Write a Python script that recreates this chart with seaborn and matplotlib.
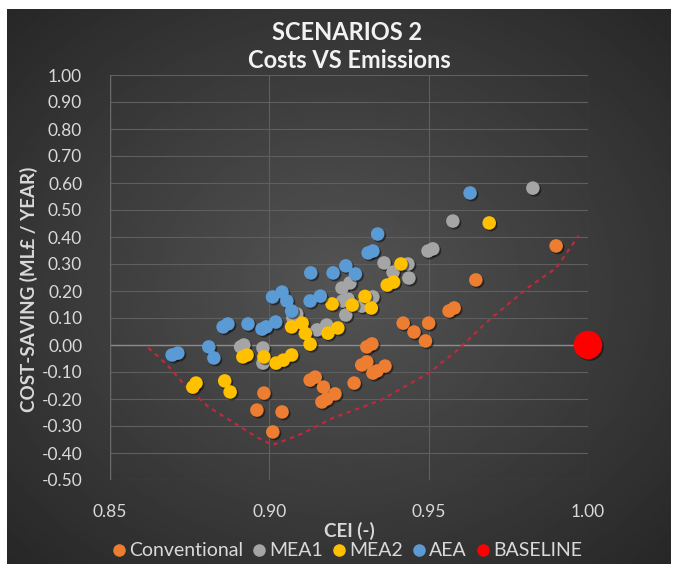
import numpy as np
import pandas as pd
import matplotlib
matplotlib.use("Agg")
import matplotlib.pyplot as plt
import matplotlib.patheffects as pe
from matplotlib.lines import Line2D
import seaborn as sns

# ---- data ----
conv_x = [0.990, 0.9648, 0.9564, 0.958, 0.942, 0.950, 0.9454, 0.949, 0.9306, 0.9322,
          0.929, 0.9306, 0.9325, 0.9338, 0.9363, 0.9266, 0.9206, 0.9128, 0.9144, 0.917,
          0.9165, 0.918, 0.904, 0.8983, 0.8961, 0.9011]
conv_y = [0.367, 0.241, 0.126, 0.137, 0.081, 0.081, 0.048, 0.015, -0.007, 0.004,
          -0.074, -0.063, -0.104, -0.096, -0.078, -0.141, -0.181, -0.130, -0.119, -0.156,
          -0.211, -0.200, -0.248, -0.178, -0.241, -0.322]

mea1_x = [0.9827, 0.9576, 0.9498, 0.9513, 0.936, 0.9435, 0.9388, 0.9438, 0.9228, 0.9253,
          0.9325, 0.929, 0.924, 0.923, 0.9247, 0.915, 0.918, 0.891, 0.892, 0.898,
          0.898, 0.9074, 0.9086]
mea1_y = [0.581, 0.459, 0.348, 0.356, 0.304, 0.300, 0.270, 0.248, 0.211, 0.230,
          0.178, 0.144, 0.111, 0.163, 0.170, 0.056, 0.074, -0.007, 0.000, -0.011,
          -0.067, 0.100, 0.115]

mea2_x = [0.969, 0.9413, 0.937, 0.939, 0.930, 0.926, 0.932, 0.9197, 0.907, 0.9103,
          0.9113, 0.9128, 0.9184, 0.9215, 0.8917, 0.893, 0.8983, 0.9021, 0.9044, 0.907,
          0.876, 0.877, 0.886, 0.8877]
mea2_y = [0.452, 0.300, 0.222, 0.233, 0.180, 0.148, 0.137, 0.152, 0.067, 0.081,
          0.043, 0.003, 0.044, 0.063, -0.044, -0.037, -0.044, -0.067, -0.056, -0.037,
          -0.156, -0.141, -0.133, -0.174]

aea_x = [0.963, 0.934, 0.931, 0.9325, 0.924, 0.913, 0.920, 0.927, 0.9128, 0.916,
         0.901, 0.904, 0.9055, 0.907, 0.902, 0.8977, 0.899, 0.8933, 0.8855, 0.887,
         0.881, 0.8826, 0.8695, 0.8713]
aea_y = [0.563, 0.411, 0.341, 0.348, 0.293, 0.267, 0.267, 0.263, 0.163, 0.181,
         0.178, 0.196, 0.163, 0.126, 0.085, 0.059, 0.067, 0.078, 0.067, 0.078,
         -0.007, -0.048, -0.037, -0.030]

base_x = [1.00]
base_y = [0.00]

front_x = [0.862, 0.868, 0.874, 0.881, 0.889, 0.896, 0.901, 0.910, 0.920, 0.935,
           0.950, 0.959, 0.965, 0.969, 0.981, 0.990, 0.997]
front_y = [-0.01, -0.074, -0.156, -0.23, -0.289, -0.341, -0.37, -0.33, -0.27, -0.204,
           -0.104, -0.019, 0.048, 0.093, 0.211, 0.285, 0.404]

x_ticks = [0.85, 0.90, 0.95, 1.00]
y_ticks = [-0.5, -0.4, -0.3, -0.2, -0.1, 0.0, 0.1, 0.2, 0.3, 0.4, 0.5, 0.6, 0.7, 0.8, 0.9, 1.0]

names = ["Conventional", "MEA1", "MEA2", "AEA"]
colors = {"Conventional": "#ED7D31", "MEA1": "#A5A5A5", "MEA2": "#FFC000",
          "AEA": "#5B9BD5", "BASELINE": "#FF0000"}

frames = []
for name, xs, ys in [("Conventional", conv_x, conv_y), ("MEA1", mea1_x, mea1_y),
                     ("MEA2", mea2_x, mea2_y), ("AEA", aea_x, aea_y)]:
    frames.append(pd.DataFrame({"CEI": xs, "saving": ys, "scenario": name}))
df = pd.concat(frames, ignore_index=True)
front = pd.DataFrame({"CEI": front_x, "saving": front_y})
base = pd.DataFrame({"CEI": base_x, "saving": base_y})

sns.set_style("dark")
plt.rcParams["font.family"] = ["Lato", "DejaVu Sans"]

fig = plt.figure(figsize=(6.78, 5.72), dpi=100)
fig.patch.set_facecolor("white")

# dark gradient card behind the chart
bg = fig.add_axes([7 / 678, 1 - 564 / 572, 664 / 678, 555 / 572], zorder=0)
yy, xx = np.mgrid[0:1:300j, 0:1:300j]
r = np.sqrt(((xx - 0.5) / 0.8) ** 2 + ((yy - 0.5) / 0.8) ** 2)
bg.imshow(0.33 - 0.2 * r, cmap="gray", vmin=0, vmax=1, aspect="auto",
          extent=[0, 1, 0, 1], interpolation="bilinear")
bg.axis("off")

ax = fig.add_axes([110 / 678, 1 - 480 / 572, 478 / 678, 405 / 572], zorder=1)
ax.patch.set_alpha(0)

sns.lineplot(data=front, x="CEI", y="saving", sort=False, estimator=None, ax=ax,
             color="#C0283C", lw=1.6, linestyle=(0, (2, 2)), zorder=2)

shadow = [pe.SimplePatchShadow(offset=(1.2, -1.2), shadow_rgbFace="black", alpha=0.45), pe.Normal()]
for name in names:
    sns.scatterplot(data=df[df.scenario == name], x="CEI", y="saving", ax=ax,
                    color=colors[name], s=95, edgecolor="none", legend=False, zorder=3)
    ax.collections[-1].set_path_effects(shadow)
sns.scatterplot(data=base, x="CEI", y="saving", ax=ax, color=colors["BASELINE"],
                s=420, edgecolor="none", legend=False, zorder=4, clip_on=False)
ax.collections[-1].set_path_effects(shadow)

ax.set_xlim(0.85, 1.00)
ax.set_ylim(-0.5, 1.0)
ax.set_xticks(x_ticks)
ax.set_xticklabels([f"{v:.2f}" for v in x_ticks])
ax.set_yticks(y_ticks)
ax.set_yticklabels([f"{v:.2f}" for v in y_ticks])
ax.grid(True, color="#5f5f5f", lw=0.8)
ax.axhline(0, color="#8c8c8c", lw=1.0, zorder=1)
for s in ax.spines.values():
    s.set_visible(False)
ax.axvline(0.85, color="#6a6a6a", lw=1.0, zorder=1)
ax.tick_params(axis="both", length=0, labelcolor="#d9d9d9", labelsize=12.5)
ax.tick_params(axis="y", pad=20)
ax.tick_params(axis="x", pad=17)
ax.set_xlabel("")
ax.set_ylabel("COST-SAVING (ML£ / YEAR)", color="#d9d9d9", fontsize=13.5, fontweight="bold")
ax.yaxis.set_label_coords(-0.15, 0.47)

fig.text(349 / 678, 1 - 531 / 572, "CEI (-)", ha="center", va="center",
         color="#d9d9d9", fontsize=13.5, fontweight="bold")
fig.text(347 / 678, 1 - 32 / 572, "SCENARIOS 2", ha="center", va="center",
         color="#f2f2f2", fontsize=17, fontweight="bold")
fig.text(349 / 678, 1 - 61 / 572, "Costs VS Emissions", ha="center", va="center",
         color="#f2f2f2", fontsize=17, fontweight="bold")

handles = [Line2D([], [], marker="o", ls="none", color=colors[n], markersize=8)
           for n in names + ["BASELINE"]]
fig.legend(handles, names + ["BASELINE"], loc="center", bbox_to_anchor=(0.51, 1 - 551 / 572),
           ncol=5, frameon=False, fontsize=14, labelcolor="#d9d9d9",
           handletextpad=0.0, columnspacing=0.35, handlelength=1.0)

fig.savefig("out.png", dpi=100, facecolor="white")
